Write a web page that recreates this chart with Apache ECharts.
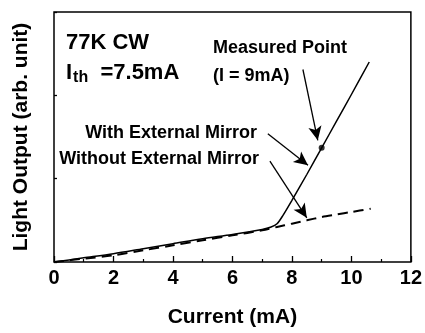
<!DOCTYPE html>
<html>
<head>
<meta charset="utf-8">
<script src="https://cdn.jsdelivr.net/npm/echarts@6/dist/echarts.min.js"></script>
<style>
  html, body { margin: 0; padding: 0; background: #fff; }
  #chart { width: 425px; height: 333px; }
</style>
</head>
<body>
<div id="chart"></div>
<script>
// light output vs current (y in arb. units, tick = 1)
const xTicks = [0, 2, 4, 6, 8, 10, 12];
const currentWith = [0, 1, 2, 3, 4, 5, 6, 7, 7.3, 7.5, 7.7, 8, 8.5, 9, 9.5, 10, 10.6];
const withMirror = [0, 0.05, 0.1, 0.16, 0.22, 0.28, 0.33, 0.39, 0.42, 0.46, 0.56, 0.74, 1.05, 1.37, 1.69, 2.01, 2.4];
const currentWithout = [0, 1, 2, 3, 4, 5, 6, 7, 7.5, 8, 8.5, 9, 9.5, 10, 10.65];
const withoutMirror = [0, 0.04, 0.08, 0.14, 0.2, 0.26, 0.32, 0.38, 0.42, 0.46, 0.5, 0.54, 0.57, 0.6, 0.64];
const measuredPoint = [9, 1.37];

// arrows: [from, to] in data coords
const arrows = [
  [[8.37, 2.31], [8.87, 1.46]],
  [[7.19, 1.54], [8.54, 1.16]],
  [[7.26, 1.21], [8.5, 0.53]],
];

const FONT = 'Liberation Sans, Arial, sans-serif';

const chart = echarts.init(document.getElementById('chart'));

const zip = (xs, ys) => xs.map((x, i) => [x, ys[i]]);

// small helper for the annotation texts (pixel anchored, vertically centred)
const label = (text, x, y, size, align) => ({
  type: 'text',
  x,
  y,
  style: {
    text,
    font: 'bold ' + size + 'px ' + FONT,
    fill: '#000',
    align: align || 'left',
    verticalAlign: 'middle',
  },
});

const option = {
  animation: false,
  backgroundColor: '#fff',
  grid: {
    left: 54,
    right: 12,
    top: 12,
    bottom: 67,
    show: true,
    borderColor: '#000',
    borderWidth: 1.5,
  },
  xAxis: {
    type: 'value',
    min: 0,
    max: 12,
    interval: 2,
    name: 'Current (mA)',
    nameLocation: 'middle',
    nameGap: 45,
    nameTextStyle: { color: '#000', fontSize: 21, fontWeight: 'bold', fontFamily: FONT },
    axisLine: { show: false },
    axisTick: { show: true, inside: true, length: 6, lineStyle: { color: '#000', width: 1.3 } },
    minorTick: { show: true, splitNumber: 2, length: 3, lineStyle: { color: '#000', width: 1.2 } },
    splitLine: { show: false },
    axisLabel: {
      color: '#000',
      fontSize: 20,
      fontWeight: 'bold',
      fontFamily: FONT,
      margin: 6,
      formatter: v => (xTicks.includes(v) ? String(v) : ''),
    },
  },
  yAxis: {
    type: 'value',
    min: 0,
    max: 3,
    interval: 1,
    name: 'Light Output (arb. unit)',
    nameLocation: 'middle',
    nameGap: 22,
    nameTextStyle: { color: '#000', fontSize: 21, fontWeight: 'bold', fontFamily: FONT },
    axisLine: { show: false },
    axisTick: { show: true, inside: true, length: 3, lineStyle: { color: '#000', width: 1.3 } },
    splitLine: { show: false },
    axisLabel: { show: false },
  },
  series: [
    {
      name: 'Without External Mirror',
      type: 'line',
      data: zip(currentWithout, withoutMirror),
      showSymbol: false,
      smooth: 0.3,
      lineStyle: { color: '#000', width: 2, type: [10, 6] },
    },
    {
      name: 'With External Mirror',
      type: 'line',
      data: zip(currentWith, withMirror),
      showSymbol: false,
      smooth: 0.3,
      lineStyle: { color: '#000', width: 1.5 },
      markLine: {
        silent: true,
        symbol: ['none', 'arrow'],
        symbolSize: [10, 14],
        label: { show: false },
        lineStyle: { color: '#000', width: 1.3, type: 'solid' },
        data: arrows.map(a => [{ coord: a[0] }, { coord: a[1] }]),
      },
    },
    {
      name: 'Measured Point',
      type: 'scatter',
      data: [measuredPoint],
      symbolSize: 6,
      itemStyle: { color: '#000' },
    },
  ],
  graphic: [
    label('77K CW', 66, 43, 22),
    {
      type: 'text',
      x: 66,
      y: 73,
      style: {
        text: '{i|I}{s|th}{n|  =7.5mA}',
        fill: '#000',
        verticalAlign: 'middle',
        rich: {
          i: { font: 'bold 22px ' + FONT, fill: '#000' },
          s: { font: 'bold 16px ' + FONT, fill: '#000', padding: [10, 0, 0, 1] },
          n: { font: 'bold 22px ' + FONT, fill: '#000' },
        },
      },
    },
    label('Measured Point', 213, 48, 18),
    label('(I = 9mA)', 213, 76, 18),
    label('With External Mirror', 257, 133, 18, 'right'),
    label('Without External Mirror', 259, 159, 18, 'right'),
  ],
};

chart.setOption(option);
</script>
</body>
</html>
